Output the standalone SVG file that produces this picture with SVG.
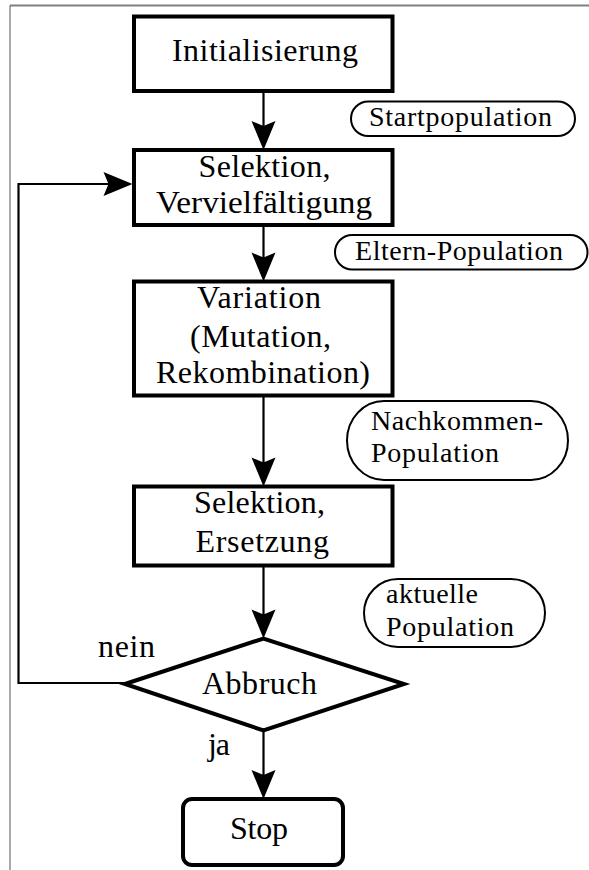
<svg xmlns="http://www.w3.org/2000/svg" width="589" height="870" viewBox="0 0 589 870">
<style>
  .box { fill: #fff; stroke: #000; stroke-width: 4; }
  .pill { fill: #fff; stroke: #000; stroke-width: 2; }
  .line { fill: none; stroke: #000; stroke-width: 2.2; }
  .ah { fill: #000; stroke: none; }
  text { font-family: "Liberation Serif", "Times New Roman", serif; fill: #000; }
  .t { font-size: 32px; }
  .s { font-size: 28px; }
</style>
<defs>
  <path id="ahd" d="M0,0 L-12,-29 L0,-24 L12,-29 Z"/>
</defs>
<rect x="0" y="0" width="589" height="870" fill="#fff"/>
<g id="frame">
  <line x1="10" y1="5.5" x2="589" y2="5.5" stroke="#808080" stroke-width="2"/>
  <line x1="10" y1="5.5" x2="10" y2="870" stroke="#555" stroke-width="1"/>
</g>
<g id="connectors">
  <line class="line" x1="263.5" y1="91" x2="263.5" y2="130"/>
  <use href="#ahd" class="ah" transform="translate(263.5,150)"/>
  <line class="line" x1="263.5" y1="225" x2="263.5" y2="262"/>
  <use href="#ahd" class="ah" transform="translate(263.5,281.5)"/>
  <line class="line" x1="263.5" y1="395.5" x2="263.5" y2="466"/>
  <use href="#ahd" class="ah" transform="translate(263.5,486.5)"/>
  <line class="line" x1="263.5" y1="565.5" x2="263.5" y2="618"/>
  <use href="#ahd" class="ah" transform="translate(263.5,638.5)"/>
  <line class="line" x1="263.5" y1="730.5" x2="263.5" y2="779"/>
  <use href="#ahd" class="ah" transform="translate(263.5,799)"/>
  <polyline class="line" stroke-width="2.5" points="125,683 18.5,683 18.5,184 112,184"/>
  <use href="#ahd" class="ah" transform="translate(132.5,184) rotate(-90)"/>
  <text class="t" x="98" y="657" textLength="57" lengthAdjust="spacing">nein</text>
  <text class="t" x="208" y="755" textLength="22" lengthAdjust="spacing">ja</text>
</g>
<g id="init">
  <rect class="box" x="134" y="16.5" width="258.5" height="74.5"/>
  <text class="t" x="172" y="61" textLength="186" lengthAdjust="spacing">Initialisierung</text>
</g>
<g id="startpop">
  <rect class="pill" x="351" y="101.5" width="224" height="34.5" rx="17.25"/>
  <text class="s" x="369" y="126" textLength="183" lengthAdjust="spacing">Startpopulation</text>
</g>
<g id="selektion1">
  <rect class="box" x="134" y="150" width="258.5" height="75"/>
  <text class="t" x="198.5" y="177" textLength="132" lengthAdjust="spacing">Selektion,</text>
  <text class="t" x="156" y="213" textLength="216" lengthAdjust="spacingAndGlyphs">Vervielfältigung</text>
</g>
<g id="elternpop">
  <rect class="pill" x="335" y="235" width="252.5" height="34.5" rx="17.25"/>
  <text class="s" x="355" y="260" textLength="208" lengthAdjust="spacing">Eltern-Population</text>
</g>
<g id="variation">
  <rect class="box" x="134" y="281.5" width="258.5" height="114"/>
  <text class="t" x="197" y="308" textLength="124" lengthAdjust="spacing">Variation</text>
  <text class="t" x="190" y="346.5" textLength="141" lengthAdjust="spacing">(Mutation,</text>
  <text class="t" x="156" y="383" textLength="214" lengthAdjust="spacing">Rekombination)</text>
</g>
<g id="nachkommenpop">
  <rect class="pill" x="347" y="401" width="221" height="79" rx="37" ry="39.5"/>
  <text class="s" x="371" y="430" textLength="172" lengthAdjust="spacing">Nachkommen-</text>
  <text class="s" x="371" y="462" textLength="128" lengthAdjust="spacing">Population</text>
</g>
<g id="selektion2">
  <rect class="box" x="134" y="486.5" width="258.5" height="79"/>
  <text class="t" x="194" y="513" textLength="131" lengthAdjust="spacing">Selektion,</text>
  <text class="t" x="195.5" y="551.5" textLength="133.5" lengthAdjust="spacing">Ersetzung</text>
</g>
<g id="aktuellepop">
  <rect class="pill" x="364" y="579" width="181" height="68" rx="34"/>
  <text class="s" x="386" y="602.5" textLength="92" lengthAdjust="spacing">aktuelle</text>
  <text class="s" x="386" y="636" textLength="128" lengthAdjust="spacing">Population</text>
</g>
<g id="abbruch">
  <polygon class="box" points="125,684 263.5,638.5 404,684 263.5,730.5"/>
  <text class="t" x="202" y="694" textLength="115" lengthAdjust="spacing">Abbruch</text>
</g>
<g id="stop">
  <rect class="box" x="183" y="799" width="160" height="66" rx="9"/>
  <text class="t" x="230" y="839" textLength="58" lengthAdjust="spacing">Stop</text>
</g>
</svg>
